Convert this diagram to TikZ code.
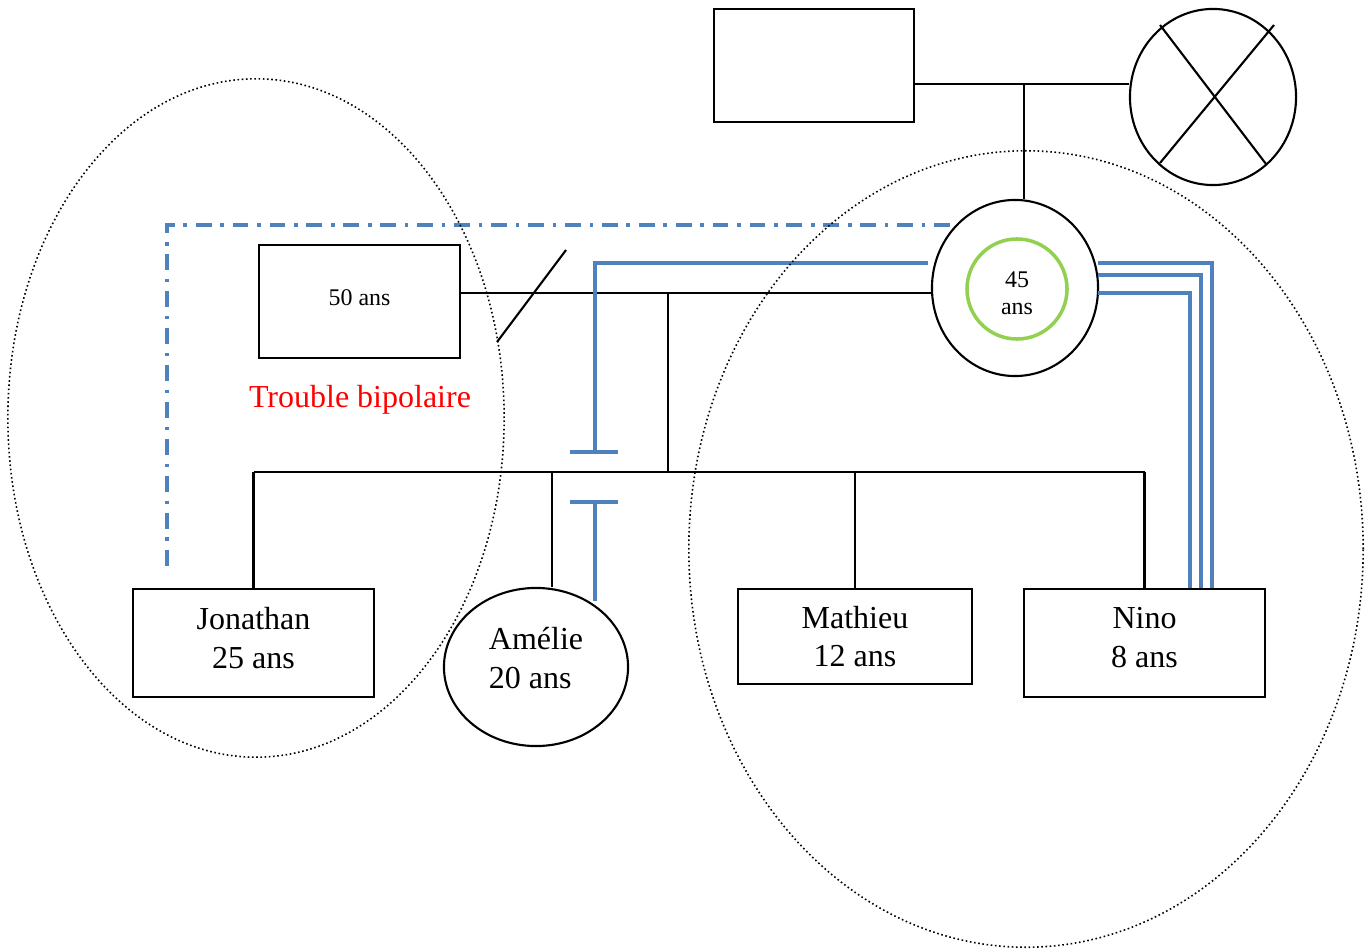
\documentclass[tikz,border=0pt]{standalone}
\usepackage{fontspec}
\setmainfont{Liberation Serif}
\usetikzlibrary{shapes.geometric,calc}
\definecolor{lienbleu}{RGB}{79,129,189}
\definecolor{vertclair}{RGB}{146,208,80}

\begin{document}
\begin{tikzpicture}[x=0.01cm,y=-0.01cm,line width=0.6pt,
   every node/.style={font=\fontsize{9.1}{11}\selectfont,inner sep=0pt},
   homme/.style={draw,rectangle},
   femme/.style={draw,ellipse},
   petit/.style={font=\fontsize{6.8}{7.7}\selectfont},
   relation/.style={draw=lienbleu,line width=1pt},
   zone/.style={line width=0.45pt,dash pattern=on 0.45pt off 0.75pt}]
  \useasboundingbox (0,0) rectangle (1370,952);
  % grands-parents
  \node[homme,minimum width=2cm,minimum height=1.13cm] (gpere) at (814,65.5) {};
  \node[femme,minimum width=1.66cm,minimum height=1.76cm] (gmere) at (1213,97) {};
  \draw (1160,25) -- (1266,164);
  \draw (1274,25) -- (1160,163);
  % parents
  \node[homme,petit,text depth=2pt,minimum width=2.01cm,minimum height=1.13cm] (pere) at (359.5,301.5) {50 ans};
  \node[femme,minimum width=1.66cm,minimum height=1.76cm] (mere) at (1015,288) {};
  \node[circle,draw=vertclair,line width=1pt,minimum size=1cm,petit,align=center,
        text height=14.5pt] (age) at (1017,289) {45\\ans};
  \node[text=red] (trouble) at (360,399.5) {Trouble bipolaire};
  % enfants
  \node[homme,text depth=3pt,minimum width=2.41cm,minimum height=1.08cm,align=center] (jon) at (253.5,643) {Jonathan\\25 ans};
  \node[femme,text depth=5pt,minimum width=1.84cm,minimum height=1.58cm,align=left] (amelie) at (536,667) {Am\'elie\\20 ans};
  \node[homme,minimum width=2.34cm,minimum height=0.95cm,align=center] (mathieu) at (855,636.5) {Mathieu\\12 ans};
  \node[homme,text depth=3pt,minimum width=2.41cm,minimum height=1.08cm,align=center] (nino) at (1144.5,643) {Nino\\8 ans};
  % liens familiaux
  \coordinate (gp) at (1024,84);
  \coordinate (union) at (668,293);
  \coordinate (fratrie) at (668,472);
  \coordinate (am) at (552,472);
  \coordinate (div1) at (497,342);
  \coordinate (div2) at (566,250);
  \draw (gp -| gpere.east) -- (gp -| gmere.west);
  \draw (gp) -- (gp |- mere.north);
  \draw (union -| pere.east) -- (union -| mere.west);
  \draw (div1) -- (div2);
  \draw (union) -- (fratrie);
  \draw (fratrie -| jon.north) -- (fratrie -| nino.north);
  \draw (fratrie -| jon.north) -- (jon.north);
  \draw (am) -- (am |- amelie.north);
  \draw (fratrie -| mathieu.north) -- (mathieu.north);
  \draw (fratrie -| nino.north) -- (nino.north);
  % relations
  \coordinate (cb1) at (595,452);
  \coordinate (cb2) at (595,502);
  \draw[relation] (928,263) -- (595,263) -- (cb1);
  \draw[relation] ($(cb1)+(-25,0)$) -- ($(cb1)+(23,0)$);
  \draw[relation] ($(cb2)+(-25,0)$) -- ($(cb2)+(23,0)$);
  \draw[relation] (cb2) -- (595,601);
  \draw[relation,dash pattern=on 4.5pt off 2.5pt on 1pt off 2.5pt] (950,225) -- (167,225) -- (167,568);
  \foreach \y/\x in {263/1212,275/1201,293/1190}
    \draw[relation] (1098,\y) -- (\x,\y) -- (\x,\y |- nino.north);
  % zones
  \draw[zone] (256,418) ellipse [x radius=2.48cm,y radius=3.39cm];
  \draw[zone] (1026,549) ellipse [x radius=3.37cm,y radius=3.98cm];
\end{tikzpicture}
\end{document}
